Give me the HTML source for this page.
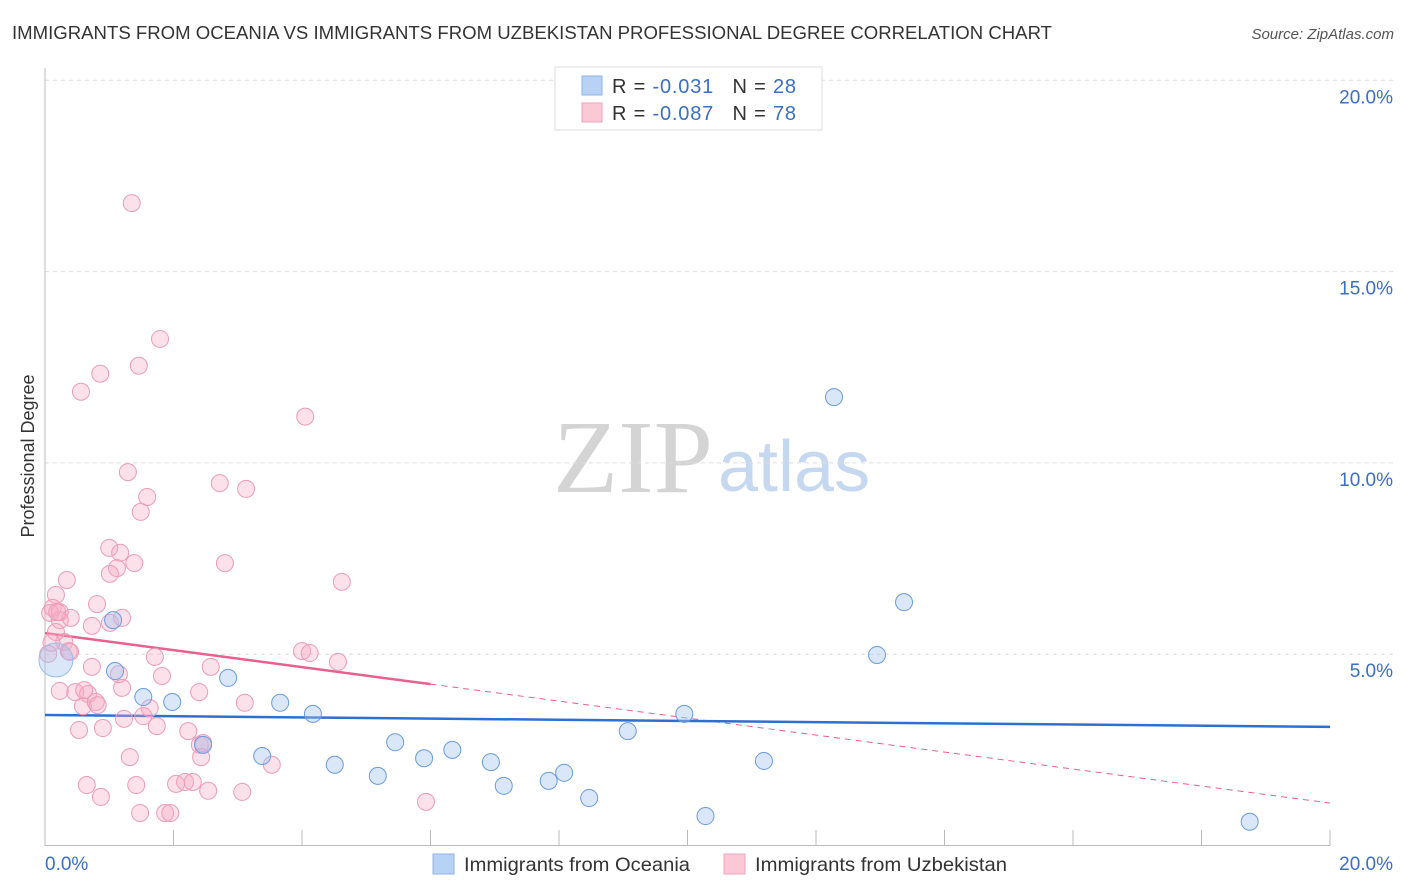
<!DOCTYPE html>
<html><head><meta charset="utf-8"><style>
body{margin:0;background:#fff;font-family:"Liberation Sans",sans-serif;}
svg{display:block}
</style></head><body>
<svg id="chart" width="1406" height="892" xmlns="http://www.w3.org/2000/svg">
<text x="12" y="39" font-size="18" fill="#333" textLength="1040" lengthAdjust="spacingAndGlyphs">IMMIGRANTS FROM OCEANIA VS IMMIGRANTS FROM UZBEKISTAN PROFESSIONAL DEGREE CORRELATION CHART</text>
<text x="1394" y="39" font-size="15" fill="#555" text-anchor="end" font-style="italic">Source: ZipAtlas.com</text>
<g>
<text x="553" y="492" font-size="104" font-family="Liberation Serif,serif" fill="#d4d4d4" textLength="160" lengthAdjust="spacingAndGlyphs">ZIP</text>
<text x="718" y="491" font-size="72" fill="#c5d8ef">atlas</text>
</g>
<text transform="translate(34,456) rotate(-90)" font-size="18" fill="#333" text-anchor="middle">Professional Degree</text>
<g id="grid"></g><g id="axes"></g><g id="trend"></g><g id="pts"></g>
<g>
<rect x="555" y="67" width="267" height="63" fill="#fff" stroke="#ddd"/>
<rect x="582" y="76" width="20" height="19" fill="#b7d2f5" stroke="#8fb4e8"/>
<rect x="582" y="103" width="20" height="19" fill="#fbc8d8" stroke="#f0a3bc"/>
<text x="612" y="93" font-size="20" fill="#333" textLength="184" lengthAdjust="spacing">R = <tspan fill="#3a6fc4"> -0.031</tspan>  <tspan dx="12">N = </tspan><tspan fill="#3a6fc4">28</tspan></text>
<text x="612" y="120" font-size="20" fill="#333" textLength="184" lengthAdjust="spacing">R = <tspan fill="#3a6fc4">-0.087</tspan>  <tspan dx="12">N = </tspan><tspan fill="#3a6fc4">78</tspan></text>
</g>
<g>
<rect x="433" y="854" width="21" height="20" fill="#b7d2f5" stroke="#8fb4e8"/>
<text x="464" y="871" font-size="19.5" fill="#333" textLength="226" lengthAdjust="spacingAndGlyphs">Immigrants from Oceania</text>
<rect x="724" y="854" width="21" height="20" fill="#fbc8d8" stroke="#f0a3bc"/>
<text x="755" y="871" font-size="19.5" fill="#333" textLength="252" lengthAdjust="spacingAndGlyphs">Immigrants from Uzbekistan</text>
</g>
</svg>
<script>
const blueX=[1.06,0.17,1.09,1.53,1.98,2.85,2.46,3.38,3.66,4.17,4.51,5.18,5.45,5.90,6.34,6.94,7.14,7.84,8.08,8.47,9.07,9.95,10.28,11.19,12.28,12.95,13.37,18.75];
const blueY=[5.89,4.85,4.56,3.88,3.75,4.38,2.63,2.34,3.73,3.44,2.11,1.82,2.70,2.28,2.50,2.18,1.56,1.69,1.90,1.24,2.99,3.44,0.77,2.21,11.72,4.98,6.36,0.62];
const pinkX=[1.35,1.79,1.46,0.86,0.56,4.05,1.29,1.59,2.72,3.13,1.49,1.00,1.17,1.12,1.39,1.01,2.80,4.62,0.34,0.17,0.12,0.08,0.23,0.81,0.40,0.73,1.01,0.30,0.37,1.20,4.00,4.12,4.56,1.71,2.58,0.73,1.82,1.15,0.23,0.47,0.67,0.61,0.59,0.79,0.82,1.20,1.63,2.40,3.11,1.53,1.23,0.53,0.90,1.74,2.23,2.41,2.46,1.32,2.43,3.53,0.65,0.87,1.42,2.04,2.18,2.30,2.54,3.07,5.93,1.48,1.87,1.95,0.05,0.17,0.23,0.19,0.39,0.10];
const pinkY=[16.79,13.24,12.54,12.33,11.86,11.21,9.76,9.11,9.47,9.32,8.72,7.78,7.65,7.25,7.38,7.10,7.38,6.89,6.94,6.55,6.21,6.08,5.89,6.31,5.95,5.74,5.82,5.32,5.08,5.95,5.08,5.03,4.80,4.93,4.67,4.67,4.43,4.48,4.04,4.01,3.96,4.06,3.64,3.75,3.67,4.12,3.59,4.01,3.73,3.38,3.31,3.02,3.07,3.12,2.99,2.63,2.68,2.31,2.31,2.11,1.58,1.27,1.58,1.61,1.66,1.66,1.43,1.40,1.14,0.85,0.85,0.85,5.01,5.58,6.10,6.10,5.06,5.30];
const yTicks=[5,10,15,20];
const yTickLabels=["5.0%","10.0%","15.0%","20.0%"];
const blueTrend=[3.41,3.10];
const pinkTrend=[5.55,1.11];
const pinkSolidEnd=6.0;
const NS="http://www.w3.org/2000/svg";
const X=v=>45+v*64.25, Y=v=>845.5-v*38.26;
function mk(t,a,p){const e=document.createElementNS(NS,t);for(const k in a)e.setAttribute(k,a[k]);p.appendChild(e);return e;}
const grid=document.getElementById('grid'),axes=document.getElementById('axes'),trend=document.getElementById('trend'),pts=document.getElementById('pts');
yTicks.forEach((t,i)=>{
 const l=mk('line',{x1:45,x2:1393,y1:Y(t),y2:Y(t),stroke:'#ddd','stroke-dasharray':'4,4'},grid);
 
 
 const tx=mk('text',{x:1393,y:Y(t)+23,'font-size':19,fill:'#3a6fc4','text-anchor':'end'},axes);
 tx.textContent=yTickLabels[i];
 
 
});
const ya=mk('line',{x1:45,x2:45,y1:68,y2:846,stroke:'#bbb'},axes);


const xa=mk('line',{x1:45,x2:1330,y1:845.5,y2:845.5,stroke:'#bbb'},axes);


for(let v=2;v<=20;v+=2){const tk=mk('line',{x1:X(v),x2:X(v),y1:830,y2:845,stroke:'#bbb'},axes);
 
 }
const x0=mk('text',{x:45,y:870,'font-size':19,fill:'#3a6fc4'},axes);x0.textContent='0.0%';


const x1=mk('text',{x:1393,y:870,'font-size':19,fill:'#3a6fc4','text-anchor':'end'},axes);x1.textContent='20.0%';


pinkX.forEach((x,i)=>{const c=mk('circle',{cx:X(x),cy:Y(pinkY[i]),r:8.5,fill:'rgba(246,170,196,0.35)',stroke:'#eb9cb8','stroke-width':1},pts);
 
 });
blueX.forEach((x,i)=>{const c=mk('circle',{cx:X(x),cy:Y(blueY[i]),r:i==1?17:8.5,fill:'rgba(160,196,240,0.4)',stroke:i==1?'#9bbbe8':'#6a9be0','stroke-width':1},pts);
 
 });
const pv=v=>pinkTrend[0]+(pinkTrend[1]-pinkTrend[0])*v/20;
const pl=mk('line',{x1:X(0),y1:Y(pinkTrend[0]),x2:X(pinkSolidEnd),y2:Y(pv(pinkSolidEnd)),stroke:'#e8608c','stroke-width':2.5},trend);


const pd=mk('line',{x1:X(pinkSolidEnd),y1:Y(pv(pinkSolidEnd)),x2:X(20),y2:Y(pinkTrend[1]),stroke:'#e8608c','stroke-width':1,'stroke-dasharray':'6,5'},trend);


const bl=mk('line',{x1:X(0),y1:Y(blueTrend[0]),x2:X(20),y2:Y(blueTrend[1]),stroke:'#2f6fd0','stroke-width':2.5},trend);


</script>
</body></html>
